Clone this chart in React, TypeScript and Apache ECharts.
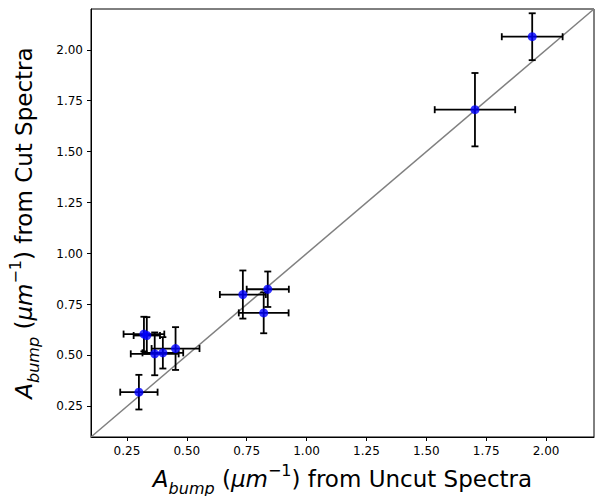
import React, { useEffect, useRef } from "react";
import * as echarts from "echarts";

const xVals = [0.300, 0.321, 0.333, 0.366, 0.400, 0.453, 0.734, 0.821, 0.838, 1.703, 1.942];
const yVals = [0.320, 0.605, 0.598, 0.508, 0.513, 0.534, 0.799, 0.709, 0.825, 1.706, 2.064];
const xErr = [0.078, 0.085, 0.055, 0.100, 0.085, 0.100, 0.096, 0.104, 0.088, 0.168, 0.127];
const yErr = [0.085, 0.085, 0.090, 0.105, 0.077, 0.105, 0.118, 0.100, 0.087, 0.180, 0.115];
const tickValues = [0.25, 0.5, 0.75, 1.0, 1.25, 1.5, 1.75, 2.0];
const axisMin = 0.1;
const axisMax = 2.2;

const FONT = "DejaVu Sans";

const nameRich = {
  i: { fontStyle: "italic", fontSize: 23, fontFamily: FONT, lineHeight: 34, verticalAlign: "middle" as const },
  n: { fontSize: 23, fontFamily: FONT, lineHeight: 34, verticalAlign: "middle" as const },
  sub: { fontStyle: "italic", fontSize: 16, fontFamily: FONT, lineHeight: 15, verticalAlign: "bottom" as const },
  sup: { fontSize: 16, fontFamily: FONT, lineHeight: 15, verticalAlign: "top" as const },
};

export default function App() {
  const ref = useRef<HTMLDivElement>(null);
  useEffect(() => {
    if (!ref.current) return;
    const chart = echarts.init(ref.current, null, { renderer: "svg" });
    const points = xVals.map((x, i) => [x, yVals[i]]);
    const errData = xVals.map((x, i) => [x, yVals[i], xErr[i], yErr[i]]);
    const axisCommon = {
      type: "value" as const,
      min: axisMin,
      max: axisMax,
      splitLine: { show: false },
      axisLine: { show: true, lineStyle: { color: "#000", width: 1 } },
      axisTick: { show: true, inside: false, length: 4, lineStyle: { color: "#000" }, customValues: tickValues },
      axisLabel: {
        color: "#000",
        fontSize: 12,
        fontFamily: FONT,
        customValues: tickValues,
        formatter: (v: number) => v.toFixed(2),
      },
      nameLocation: "middle" as const,
    };
    chart.setOption({
      animation: false,
      grid: {
        left: 91, right: 5, top: 9, bottom: 59,
        outerBoundsMode: "none",
        containLabel: false,
        show: true, borderColor: "#000", borderWidth: 1, backgroundColor: "transparent",
      },
      xAxis: {
        ...axisCommon,
        name: "{i|A}{sub|bump}{n| (}{i|μm}{sup|−1}{n|) from Uncut Spectra}",
        nameGap: 25,
        nameTextStyle: { fontSize: 23, fontFamily: FONT, color: "#000", rich: nameRich },
      },
      yAxis: {
        ...axisCommon,
        name: "{i|A}{sub|bump}{n| (}{i|μm}{sup|−1}{n|) from Cut Spectra}",
        nameGap: 50,
        nameRotate: 90,
        nameTextStyle: { fontSize: 23, fontFamily: FONT, color: "#000", rich: nameRich },
      },
      series: [
        {
          type: "line",
          data: [[axisMin, axisMin], [axisMax, axisMax]],
          symbol: "none",
          lineStyle: { color: "#808080", width: 1.5 },
          z: 1,
          silent: true,
        },
        {
          type: "custom",
          data: errData,
          z: 2,
          renderItem: (params: any, api: any) => {
            const x = api.value(0), y = api.value(1), xe = api.value(2), ye = api.value(3);
            const l = api.coord([x - xe, y]);
            const r = api.coord([x + xe, y]);
            const t = api.coord([x, y + ye]);
            const b = api.coord([x, y - ye]);
            const c = 3.5;
            const style = { stroke: "#000", lineWidth: 1.8 };
            return {
              type: "group",
              children: [
                { type: "line", shape: { x1: l[0], y1: l[1], x2: r[0], y2: r[1] }, style },
                { type: "line", shape: { x1: t[0], y1: t[1], x2: b[0], y2: b[1] }, style },
                { type: "line", shape: { x1: l[0], y1: l[1] - c, x2: l[0], y2: l[1] + c }, style },
                { type: "line", shape: { x1: r[0], y1: r[1] - c, x2: r[0], y2: r[1] + c }, style },
                { type: "line", shape: { x1: t[0] - c, y1: t[1], x2: t[0] + c, y2: t[1] }, style },
                { type: "line", shape: { x1: b[0] - c, y1: b[1], x2: b[0] + c, y2: b[1] }, style },
              ],
            };
          },
        },
        {
          type: "scatter",
          data: points,
          symbol: "circle",
          symbolSize: 9,
          itemStyle: { color: "#0000ff" },
          z: 3,
        },
      ],
    });
    return () => chart.dispose();
  }, []);
  return <div ref={ref} style={{ width: 599, height: 496, position: "absolute", left: 0, top: 0 }} />;
}
